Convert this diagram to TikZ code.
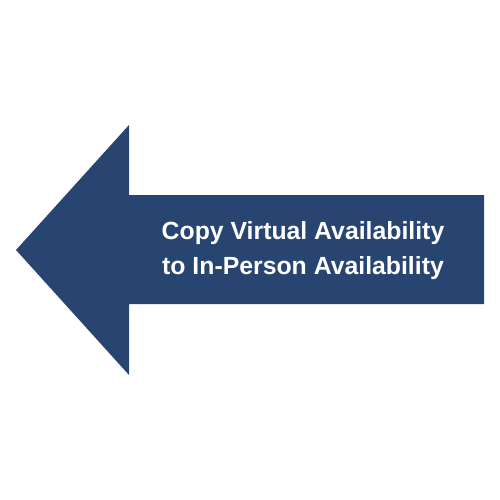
\documentclass[tikz,border=0pt]{standalone}
\usepackage{fontspec}
\setmainfont{Liberation Sans}
\usepackage{tikz}
\usetikzlibrary{positioning}
\definecolor{navy}{RGB}{40,69,114}

\begin{document}
\begin{tikzpicture}[
    x=1pt, y=-1pt,
    bigarrow/.style={fill=navy, draw=none},
    label/.style={text=white, align=center,
      font=\fontsize{24.8}{35}\selectfont\bfseries}
]
\useasboundingbox (0,0) rectangle (500,500);
\fill[bigarrow] (16,250) -- (129,125) -- (129,195) -- (484,195)
  -- (484,304) -- (129,304) -- (129,375) -- cycle;
\node[label] (copy) at (303,251) {Copy Virtual Availability\\to In-Person Availability};
\end{tikzpicture}
\end{document}
